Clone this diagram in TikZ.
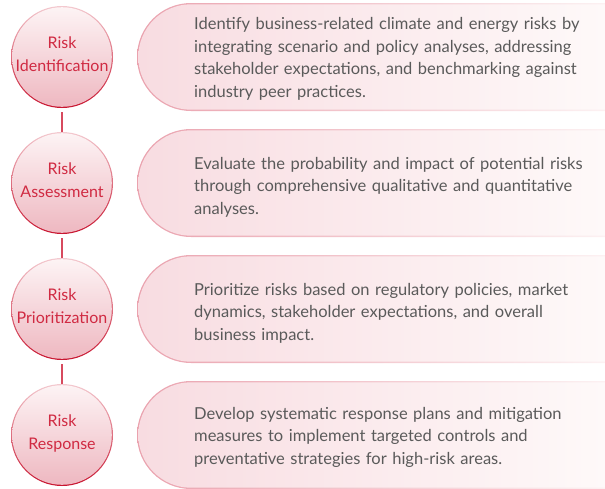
\documentclass[tikz,border=0pt]{standalone}
\usepackage{fontspec}
\setmainfont{Lato}
\usetikzlibrary{positioning}
\definecolor{riskred}{HTML}{D02A42}
\definecolor{bodygray}{HTML}{5A5A5A}
\definecolor{ringtop}{HTML}{F3C9CF}
\definecolor{ringbot}{HTML}{C8142F}
\definecolor{disctop}{HTML}{FDF4F5}
\definecolor{discbot}{HTML}{EEB7C0}
\definecolor{edgeleft}{HTML}{EAA2AE}
\definecolor{edgeright}{HTML}{FCF1F2}
\definecolor{panelleft}{HTML}{F8DCE1}
\definecolor{panelright}{HTML}{FEF9F9}

\begin{document}
\begin{tikzpicture}[x=1pt,y=1pt,
  stage/.style={circle,minimum size=102pt,inner sep=0pt,align=center,
    text=riskred,font=\fontsize{16}{23}\selectfont,text depth=6pt,
    top color=ringtop,bottom color=ringbot,
    path picture={\shade[top color=disctop,bottom color=discbot]
      (path picture bounding box.center) circle (49.8pt);}},
  note/.style={anchor=west,align=left,text width=410pt,inner sep=0pt,
    text=bodygray,font=\fontsize{16.5}{22.5}\selectfont},
  link/.style={draw=riskred!85,line width=1.2pt}]
\useasboundingbox (0,0) rectangle (605,-488);

% panels behind the text, rounded on the left only
\shade[left color=edgeleft,right color=edgeright]
  (605,-3) -- (191,-3) arc[start angle=90,end angle=270,radius=54] -- (605,-111) -- cycle;
\shade[left color=panelleft,right color=panelright]
  (605,-4.3) -- (191,-4.3) arc[start angle=90,end angle=270,radius=52.7] -- (605,-109.7) -- cycle;
\shade[left color=edgeleft,right color=edgeright]
  (605,-129) -- (191,-129) arc[start angle=90,end angle=270,radius=54] -- (605,-237) -- cycle;
\shade[left color=panelleft,right color=panelright]
  (605,-130.3) -- (191,-130.3) arc[start angle=90,end angle=270,radius=52.7] -- (605,-235.7) -- cycle;
\shade[left color=edgeleft,right color=edgeright]
  (605,-255) -- (191,-255) arc[start angle=90,end angle=270,radius=54] -- (605,-363) -- cycle;
\shade[left color=panelleft,right color=panelright]
  (605,-256.3) -- (191,-256.3) arc[start angle=90,end angle=270,radius=52.7] -- (605,-361.7) -- cycle;
\shade[left color=edgeleft,right color=edgeright]
  (605,-381) -- (191,-381) arc[start angle=90,end angle=270,radius=54] -- (605,-489) -- cycle;
\shade[left color=panelleft,right color=panelright]
  (605,-382.3) -- (191,-382.3) arc[start angle=90,end angle=270,radius=52.7] -- (605,-487.7) -- cycle;

% stages
\node[stage] (ident) at (62,-57) {Risk\\Identification};
\node[stage] (assess) at (62,-183) {Risk\\Assessment};
\node[stage] (prior) at (62,-309) {Risk\\Prioritization};
\node[stage] (resp) at (62,-435) {Risk\\Response};

\draw[link] ([yshift=-4pt]ident.south) -- (assess.north);
\draw[link] ([yshift=-4pt]assess.south) -- (prior.north);
\draw[link] ([yshift=-4pt]prior.south) -- (resp.north);

% descriptions
\node[note] (identtxt) at (194,-59) {Identify business-related climate and energy risks by\\
  integrating scenario and policy analyses, addressing\\
  stakeholder expectations, and benchmarking against\\
  industry peer practices.};
\node[note] (assesstxt) at (194,-187) {Evaluate the probability and impact of potential risks\\
  through comprehensive qualitative and quantitative\\
  analyses.};
\node[note] (priortxt) at (194,-313) {Prioritize risks based on regulatory policies, market\\
  dynamics, stakeholder expectations, and overall\\
  business impact.};
\node[note] (resptxt) at (194,-437) {Develop systematic response plans and mitigation\\
  measures to implement targeted controls and\\
  preventative strategies for high-risk areas.};
\end{tikzpicture}
\end{document}
